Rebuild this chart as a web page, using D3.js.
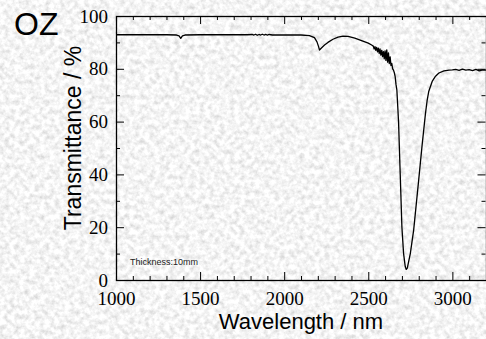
<!DOCTYPE html>
<html>
<head>
<meta charset="utf-8">
<script src="https://cdn.jsdelivr.net/npm/d3@7"></script>
<style>
html,body{margin:0;padding:0;background:#e6e6e6;}
svg{display:block;}
.serif{font-family:"Liberation Serif","DejaVu Serif","Times New Roman","Liberation Sans",Arial,serif;}
.sans{font-family:"Liberation Sans",Arimo,Arial,Helvetica,sans-serif;}
</style>
</head>
<body>
<svg id="chart" width="486" height="339"></svg>
<script>
// ---- data ----
const wavelength = [
  1000,1100,1200,1300,1360,1375,1385,1395,1410,1500,1600,1700,1780,
  1810,1820,1830,1840,1850,1860,1870,1880,1890,1900,1910,1920,1930,
  2000,2100,2150,2180,2195,2205,2210,2220,2240,2260,2290,2320,2350,2380,2420,2460,2500,2520,
  2530,2535,2540,2545,2550,2555,2560,2565,2570,2575,2580,2585,2590,2595,2600,2605,2610,2615,2620,2625,2630,2635,2640,2645,2650,2655,2660,2665,
  2670,2675,2680,2690,2700,2710,2720,2726,2732,2740,2750,2770,2800,2820,2840,2850,2860,2880,2900,2920,2950,2980,
  3000,3020,3040,3060,3080,3100,3120,3140,3160,3180,3200
];
const transmittance = [
  92.9,92.9,92.9,92.9,92.8,92.5,91.5,92.5,92.8,92.9,92.9,92.9,92.9,
  93.0,92.8,93.1,92.7,93.0,92.8,93.1,92.8,93.0,92.8,93.0,92.9,92.8,
  92.8,92.8,92.6,91.8,90.2,88.3,87.1,87.8,89.0,90.0,91.2,92.0,92.4,92.3,91.6,90.7,89.7,89.0,
  88.6,87.5,88.4,87.0,88.1,86.4,87.8,85.8,87.5,85.2,87.0,84.6,86.5,83.8,86.8,83.2,87.2,82.5,86.0,82.0,84.5,81.2,82.0,80.0,79.5,78.5,77.0,74.0,
  72.0,66.0,60.0,40.0,20.0,10.0,5.0,4.0,4.5,7.0,10.0,19.0,38.0,51.0,63.0,68.0,71.5,75.2,77.2,78.4,79.2,79.5,
  79.6,79.8,79.4,79.9,79.5,79.7,79.3,79.8,79.2,79.6,79.5
];
const xMajorTicks = [1000,1500,2000,2500,3000];
const xMinorTicks = [1100,1200,1300,1400,1600,1700,1800,1900,2100,2200,2300,2400,2600,2700,2800,2900,3100,3200];
const yMajorTicks = [0,20,40,60,80,100];
const yMinorTicks = [10,30,50,70,90];
const title = "OZ";
const xLabel = "Wavelength / nm";
const yLabel = "Transmittance / %";
const note = "Thickness:10mm";

// ---- drawing ----
const svg = d3.select("#chart");
const W = 486, H = 339;
const m = {left:116, top:16, right:486, bottom:280};

const defs = svg.append("defs");
const f = defs.append("filter").attr("id","tex").attr("x",0).attr("y",0).attr("width","100%").attr("height","100%");
f.append("feTurbulence").attr("type","fractalNoise").attr("baseFrequency","0.2").attr("numOctaves",3).attr("seed",7).attr("result","n");
f.append("feColorMatrix").attr("in","n").attr("type","matrix")
  .attr("values","0.6 0 0 0 0.61  0.6 0 0 0 0.61  0.6 0 0 0 0.61  0 0 0 0 1");
svg.append("rect").attr("width",W).attr("height",H).attr("fill","#e6e6e6");
svg.append("rect").attr("width",W).attr("height",H).attr("filter","url(#tex)");

const x = d3.scaleLinear().domain([1000,3200]).range([m.left, m.right]);
const y = d3.scaleLinear().domain([0,100]).range([m.bottom, m.top]);

function styleAxis(g){
  g.attr("font-family", null).attr("font-size", null);
  g.select(".domain").remove();
  g.selectAll("line").attr("stroke","#000").attr("stroke-width",1);
  g.selectAll("text").attr("class","serif").attr("font-size",19).attr("fill","#000");
}

// bottom
svg.append("g").attr("transform",`translate(0,${m.bottom})`)
  .call(d3.axisBottom(x).tickValues(xMajorTicks).tickSize(-8).tickPadding(12).tickFormat(d3.format("d")))
  .call(styleAxis);
svg.append("g").attr("transform",`translate(0,${m.bottom})`)
  .call(d3.axisBottom(x).tickValues(xMinorTicks).tickSize(-4).tickFormat(""))
  .call(styleAxis);
// top
svg.append("g").attr("transform",`translate(0,${m.top})`)
  .call(d3.axisTop(x).tickValues(xMajorTicks).tickSize(-8).tickFormat(""))
  .call(styleAxis);
svg.append("g").attr("transform",`translate(0,${m.top})`)
  .call(d3.axisTop(x).tickValues(xMinorTicks).tickSize(-4).tickFormat(""))
  .call(styleAxis);
// left
svg.append("g").attr("transform",`translate(${m.left},0)`)
  .call(d3.axisLeft(y).tickValues(yMajorTicks).tickSize(-8).tickPadding(8).tickFormat(d3.format("d")))
  .call(styleAxis);
svg.append("g").attr("transform",`translate(${m.left},0)`)
  .call(d3.axisLeft(y).tickValues(yMinorTicks).tickSize(-4).tickFormat(""))
  .call(styleAxis);
// right
svg.append("g").attr("transform",`translate(${m.right-0.5},0)`)
  .call(d3.axisRight(y).tickValues(yMajorTicks).tickSize(-8).tickFormat(""))
  .call(styleAxis);
svg.append("g").attr("transform",`translate(${m.right-0.5},0)`)
  .call(d3.axisRight(y).tickValues(yMinorTicks).tickSize(-4).tickFormat(""))
  .call(styleAxis);

// frame
svg.append("rect").attr("x",m.left+0.5).attr("y",m.top+0.5)
  .attr("width",m.right-m.left).attr("height",m.bottom-m.top)
  .attr("fill","none").attr("stroke","#000").attr("stroke-width",1.3);

// curve
const pts = wavelength.map((w,i)=>[w, transmittance[i]]);
svg.append("path").datum(pts)
  .attr("fill","none").attr("stroke","#000").attr("stroke-width",1.3).attr("stroke-linejoin","round")
  .attr("d", d3.line().x(d=>x(d[0])).y(d=>y(d[1])));

// texts
svg.append("text").attr("class","sans").attr("x",14).attr("y",35).attr("font-size",32).attr("fill","#000").text(title);
svg.append("text").attr("class","sans").attr("x",(m.left+m.right)/2).attr("y",329).attr("text-anchor","middle")
  .attr("font-size",22).attr("fill","#000").text(xLabel);
svg.append("text").attr("class","sans").attr("transform","translate(81,138) rotate(-90)").attr("text-anchor","middle")
  .attr("font-size",23).attr("fill","#000").text(yLabel);
svg.append("text").attr("class","sans").attr("x",130).attr("y",265).attr("font-size",9).attr("fill","#222").text(note);
</script>
</body>
</html>
